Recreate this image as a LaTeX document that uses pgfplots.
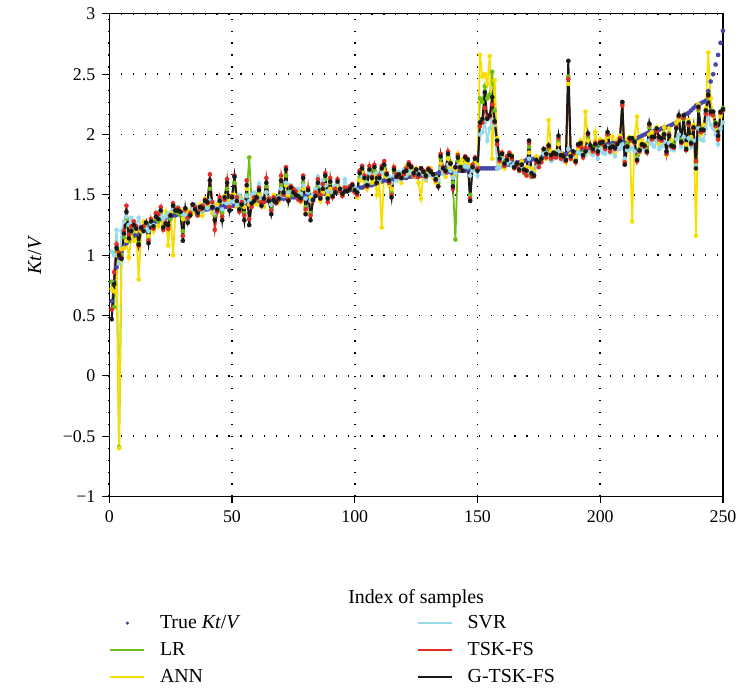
\documentclass[border=0pt]{standalone}
\usepackage{pgfplots}
\pgfplotsset{compat=1.18}
\usepackage{pgfplotstable}
\usepackage{fontspec}
\setmainfont{Liberation Serif}

\definecolor{ctrue}{RGB}{70,70,170}
\definecolor{clr}{RGB}{110,190,20}
\definecolor{cann}{RGB}{248,222,0}
\definecolor{csvr}{RGB}{150,218,235}
\definecolor{ctsk}{RGB}{225,45,35}
\definecolor{cg}{RGB}{25,25,25}

\pgfplotstableread{
i T LR ANN SVR TSK G
1 0.62 0.78 0.72 1.03 0.55 0.47
2 0.78 0.57 0.70 1.00 0.86 0.76
3 0.90 1.02 1.00 1.21 1.09 1.06
4 0.98 -0.59 -0.60 0.93 1.02 1.00
5 1.03 1.00 1.05 1.20 0.98 0.97
6 1.07 1.15 1.06 1.28 1.20 1.18
7 1.10 1.30 1.12 1.32 1.41 1.36
8 1.12 1.12 0.98 1.25 1.17 1.14
9 1.14 1.18 1.15 1.31 1.24 1.20
10 1.16 1.22 1.12 1.27 1.28 1.25
11 1.18 1.20 1.20 1.25 1.24 1.22
12 1.19 1.10 0.80 1.31 1.08 1.09
13 1.21 1.20 1.20 1.22 1.22 1.23
14 1.22 1.24 1.28 1.22 1.24 1.20
15 1.24 1.25 1.22 1.22 1.27 1.27
16 1.25 1.14 1.16 1.20 1.12 1.10
17 1.26 1.27 1.30 1.26 1.30 1.28
18 1.27 1.22 1.20 1.25 1.22 1.24
19 1.28 1.30 1.35 1.34 1.35 1.32
20 1.29 1.28 1.24 1.36 1.34 1.30
21 1.30 1.34 1.32 1.33 1.40 1.37
22 1.30 1.25 1.27 1.30 1.21 1.23
23 1.31 1.27 1.36 1.32 1.27 1.26
24 1.32 1.23 1.08 1.35 1.22 1.25
25 1.32 1.30 1.35 1.33 1.33 1.33
26 1.33 1.38 1.00 1.38 1.43 1.41
27 1.33 1.36 1.37 1.40 1.38 1.37
28 1.34 1.35 1.40 1.40 1.39 1.37
29 1.34 1.33 1.38 1.36 1.36 1.36
30 1.35 1.20 1.30 1.34 1.16 1.12
31 1.35 1.37 1.38 1.33 1.38 1.39
32 1.35 1.30 1.36 1.30 1.31 1.27
33 1.36 1.33 1.37 1.35 1.35 1.33
34 1.36 1.40 1.35 1.38 1.42 1.42
35 1.37 1.38 1.41 1.42 1.40 1.38
36 1.37 1.33 1.34 1.39 1.33 1.35
37 1.37 1.38 1.42 1.36 1.38 1.40
38 1.38 1.37 1.33 1.38 1.41 1.39
39 1.38 1.42 1.47 1.43 1.46 1.45
40 1.38 1.43 1.40 1.39 1.43 1.44
41 1.39 1.55 1.42 1.45 1.67 1.62
42 1.39 1.42 1.35 1.41 1.44 1.40
43 1.39 1.33 1.36 1.35 1.21 1.29
44 1.39 1.37 1.42 1.39 1.36 1.38
45 1.40 1.44 1.46 1.47 1.48 1.45
46 1.40 1.35 1.32 1.38 1.32 1.29
47 1.40 1.45 1.49 1.44 1.46 1.48
48 1.40 1.55 1.44 1.43 1.63 1.60
49 1.41 1.39 1.45 1.42 1.40 1.37
50 1.41 1.46 1.50 1.45 1.49 1.48
51 1.41 1.60 1.50 1.48 1.66 1.65
52 1.42 1.44 1.40 1.42 1.48 1.45
53 1.42 1.40 1.38 1.50 1.36 1.38
54 1.42 1.43 1.47 1.46 1.44 1.42
55 1.43 1.35 1.40 1.44 1.33 1.29
56 1.43 1.50 1.55 1.49 1.62 1.58
57 1.43 1.81 1.42 1.45 1.30 1.25
58 1.44 1.44 1.46 1.50 1.40 1.43
59 1.44 1.47 1.45 1.52 1.48 1.45
60 1.44 1.46 1.42 1.48 1.47 1.48
61 1.45 1.52 1.50 1.59 1.56 1.54
62 1.45 1.42 1.45 1.47 1.44 1.41
63 1.45 1.46 1.40 1.45 1.44 1.47
64 1.45 1.57 1.52 1.52 1.64 1.60
65 1.46 1.45 1.46 1.48 1.47 1.45
66 1.46 1.38 1.42 1.42 1.37 1.34
67 1.46 1.47 1.50 1.47 1.48 1.46
68 1.46 1.44 1.47 1.46 1.43 1.44
69 1.47 1.49 1.44 1.48 1.46 1.47
70 1.47 1.58 1.65 1.55 1.66 1.62
71 1.47 1.50 1.52 1.49 1.50 1.52
72 1.47 1.66 1.58 1.60 1.73 1.71
73 1.48 1.48 1.50 1.52 1.46 1.45
74 1.48 1.54 1.58 1.58 1.57 1.56
75 1.48 1.50 1.55 1.53 1.55 1.52
76 1.48 1.52 1.50 1.50 1.53 1.50
77 1.48 1.48 1.52 1.55 1.46 1.49
78 1.49 1.49 1.44 1.51 1.45 1.47
79 1.49 1.60 1.55 1.58 1.66 1.64
80 1.49 1.40 1.35 1.47 1.38 1.34
81 1.49 1.53 1.56 1.52 1.56 1.54
82 1.50 1.35 1.48 1.45 1.33 1.29
83 1.50 1.46 1.50 1.50 1.45 1.46
84 1.50 1.51 1.53 1.55 1.52 1.49
85 1.50 1.57 1.60 1.65 1.63 1.60
86 1.50 1.49 1.45 1.58 1.50 1.47
87 1.51 1.54 1.52 1.62 1.59 1.55
88 1.51 1.63 1.58 1.58 1.68 1.66
89 1.51 1.48 1.50 1.53 1.44 1.47
90 1.51 1.60 1.55 1.62 1.64 1.61
91 1.52 1.50 1.52 1.52 1.48 1.49
92 1.52 1.53 1.55 1.57 1.55 1.52
93 1.52 1.59 1.57 1.60 1.63 1.61
94 1.53 1.55 1.52 1.55 1.53 1.55
95 1.53 1.52 1.50 1.55 1.49 1.51
96 1.53 1.54 1.56 1.63 1.56 1.53
97 1.54 1.54 1.53 1.55 1.55 1.53
98 1.54 1.55 1.56 1.57 1.57 1.55
99 1.54 1.57 1.55 1.58 1.59 1.58
100 1.55 1.54 1.55 1.56 1.52 1.54
101 1.55 1.52 1.48 1.54 1.50 1.52
102 1.56 1.65 1.62 1.70 1.70 1.68
103 1.56 1.70 1.68 1.65 1.74 1.72
104 1.57 1.63 1.61 1.64 1.66 1.64
105 1.57 1.59 1.55 1.60 1.57 1.58
106 1.58 1.69 1.72 1.68 1.74 1.71
107 1.58 1.64 1.60 1.66 1.65 1.64
108 1.59 1.70 1.67 1.73 1.75 1.73
109 1.60 1.60 1.50 1.68 1.60 1.60
110 1.61 1.64 1.60 1.62 1.66 1.64
111 1.61 1.70 1.23 1.68 1.74 1.72
112 1.62 1.73 1.70 1.75 1.78 1.75
113 1.62 1.66 1.65 1.68 1.68 1.67
114 1.62 1.63 1.58 1.65 1.60 1.62
115 1.63 1.52 1.55 1.60 1.50 1.48
116 1.63 1.70 1.72 1.66 1.73 1.71
117 1.63 1.65 1.62 1.62 1.67 1.65
118 1.64 1.67 1.66 1.69 1.65 1.67
119 1.64 1.64 1.60 1.63 1.64 1.64
120 1.64 1.68 1.66 1.71 1.67 1.69
121 1.64 1.70 1.74 1.66 1.72 1.70
122 1.65 1.73 1.68 1.70 1.77 1.75
123 1.65 1.72 1.70 1.68 1.74 1.73
124 1.65 1.67 1.65 1.66 1.66 1.68
125 1.65 1.70 1.72 1.69 1.71 1.71
126 1.66 1.66 1.60 1.67 1.65 1.67
127 1.66 1.71 1.47 1.70 1.72 1.72
128 1.66 1.70 1.70 1.67 1.70 1.69
129 1.66 1.66 1.62 1.63 1.65 1.66
130 1.67 1.70 1.68 1.66 1.72 1.71
131 1.67 1.68 1.72 1.69 1.70 1.69
132 1.67 1.66 1.64 1.66 1.67 1.67
133 1.67 1.65 1.60 1.64 1.62 1.63
134 1.68 1.60 1.63 1.62 1.57 1.57
135 1.68 1.80 1.76 1.72 1.84 1.82
136 1.68 1.72 1.70 1.68 1.73 1.72
137 1.68 1.71 1.65 1.70 1.69 1.70
138 1.69 1.82 1.80 1.75 1.86 1.84
139 1.69 1.77 1.72 1.70 1.76 1.76
140 1.69 1.60 1.65 1.64 1.55 1.57
141 1.69 1.13 1.70 1.68 1.73 1.73
142 1.70 1.78 1.84 1.74 1.83 1.81
143 1.70 1.73 1.76 1.72 1.72 1.73
144 1.70 1.72 1.80 1.71 1.70 1.70
145 1.70 1.79 1.76 1.74 1.82 1.81
146 1.71 1.78 1.75 1.73 1.80 1.79
147 1.71 1.50 1.74 1.66 1.47 1.45
148 1.71 1.72 1.73 1.70 1.75 1.73
149 1.72 1.79 1.76 1.74 1.81 1.80
150 1.72 1.72 1.75 1.66 1.72 1.70
151 1.72 2.30 2.66 2.00 2.07 2.10
152 1.72 2.27 2.48 2.02 2.10 2.13
153 1.72 2.40 2.50 2.10 2.22 2.35
154 1.72 2.30 2.42 1.95 2.15 2.13
155 1.72 2.33 2.65 2.05 2.15 2.16
156 1.72 2.52 1.80 2.12 2.25 2.31
157 1.72 2.20 2.45 2.08 2.10 2.11
158 1.72 1.96 1.97 1.72 1.92 1.95
159 1.73 1.80 1.75 1.73 1.78 1.80
160 1.74 1.82 1.85 1.80 1.85 1.84
161 1.74 1.77 1.72 1.75 1.74 1.76
162 1.75 1.80 1.77 1.76 1.82 1.79
163 1.75 1.82 1.80 1.78 1.85 1.83
164 1.76 1.80 1.83 1.74 1.80 1.82
165 1.76 1.74 1.75 1.76 1.72 1.73
166 1.77 1.75 1.73 1.74 1.74 1.76
167 1.77 1.70 1.72 1.71 1.70 1.71
168 1.78 1.76 1.78 1.73 1.75 1.75
169 1.78 1.68 1.70 1.70 1.69 1.71
170 1.79 1.68 1.73 1.69 1.66 1.70
171 1.79 1.90 1.85 1.80 1.93 1.95
172 1.79 1.66 1.72 1.69 1.65 1.68
173 1.80 1.65 1.70 1.67 1.66 1.66
174 1.80 1.78 1.82 1.73 1.77 1.79
175 1.80 1.76 1.80 1.75 1.73 1.77
176 1.81 1.79 1.78 1.80 1.77 1.80
177 1.81 1.86 1.84 1.84 1.88 1.88
178 1.81 1.82 1.80 1.85 1.81 1.84
179 1.82 1.88 2.12 1.82 1.90 1.91
180 1.82 1.82 1.86 1.78 1.80 1.83
181 1.82 1.84 1.83 1.80 1.82 1.85
182 1.83 1.83 1.86 1.83 1.81 1.84
183 1.83 1.95 1.92 1.86 1.97 1.99
184 1.83 1.82 1.84 1.80 1.80 1.83
185 1.84 1.80 1.82 1.78 1.83 1.82
186 1.84 1.78 1.77 1.80 1.78 1.79
187 1.84 2.48 2.42 1.88 2.46 2.61
188 1.85 1.83 1.84 1.80 1.80 1.82
189 1.85 1.85 1.79 1.82 1.84 1.86
190 1.85 1.79 1.82 1.77 1.77 1.78
191 1.86 1.90 1.88 1.85 1.91 1.92
192 1.86 1.91 1.95 1.84 1.90 1.93
193 1.87 1.85 1.84 1.82 1.81 1.83
194 1.87 1.87 2.19 1.83 1.89 1.86
195 1.88 1.98 1.95 1.90 2.00 2.01
196 1.88 1.90 1.85 1.86 1.89 1.91
197 1.89 1.88 1.88 1.83 1.86 1.88
198 1.89 1.90 2.02 1.87 1.93 1.92
199 1.90 1.87 1.85 1.80 1.84 1.86
200 1.90 1.92 1.96 1.88 1.94 1.93
201 1.91 1.93 1.90 1.85 1.92 1.94
202 1.91 1.89 1.95 1.84 1.88 1.90
203 1.92 2.00 1.98 1.90 2.00 2.02
204 1.92 1.88 1.86 1.85 1.86 1.89
205 1.93 1.91 1.98 1.86 1.90 1.90
206 1.93 1.90 1.85 1.82 1.88 1.89
207 1.94 1.94 1.96 1.88 1.93 1.92
208 1.94 1.96 1.99 1.88 1.97 1.95
209 1.94 2.26 2.25 1.92 2.24 2.27
210 1.95 1.79 1.78 1.80 1.77 1.75
211 1.95 1.92 1.96 1.87 1.90 1.90
212 1.96 1.95 1.98 1.88 1.96 1.97
213 1.96 1.95 1.28 1.89 1.95 1.97
214 1.97 1.96 1.98 1.86 1.93 1.94
215 1.97 1.82 2.15 1.80 1.78 1.79
216 1.98 1.88 1.85 1.86 1.86 1.87
217 1.99 1.92 1.95 1.90 1.91 1.92
218 2.00 1.92 1.90 1.88 1.90 1.91
219 2.01 1.88 1.92 1.85 1.85 1.86
220 2.02 2.06 2.00 1.95 2.08 2.09
221 2.02 1.97 2.02 1.92 1.96 1.98
222 2.03 1.96 1.97 1.90 1.98 1.98
223 2.03 2.04 2.06 1.95 2.03 2.05
224 2.04 1.97 1.92 1.88 1.96 1.98
225 2.05 1.96 1.98 1.90 1.95 1.97
226 2.06 2.01 2.06 1.94 2.00 2.00
227 2.06 1.86 1.83 1.85 1.84 1.86
228 2.07 2.01 2.05 1.93 2.00 1.99
229 2.08 1.92 1.95 1.88 1.90 1.91
230 2.09 1.92 1.88 1.87 1.89 1.90
231 2.10 2.07 2.10 1.96 2.06 2.05
232 2.12 2.14 2.12 2.00 2.15 2.16
233 2.14 1.96 1.93 1.90 1.93 1.94
234 2.15 2.13 2.15 1.98 2.14 2.16
235 2.17 1.90 1.92 1.88 1.87 1.88
236 2.18 2.08 2.12 1.97 2.08 2.10
237 2.20 1.95 1.98 1.90 1.92 1.93
238 2.22 2.05 2.08 1.95 2.05 2.06
239 2.24 1.75 1.16 1.74 1.78 1.72
240 2.25 2.20 2.25 2.05 2.22 2.23
241 2.26 2.05 2.00 1.96 2.02 2.04
242 2.27 2.05 2.08 1.95 2.03 2.04
243 2.28 2.18 2.22 2.05 2.17 2.20
244 2.36 2.30 2.68 2.15 2.32 2.33
245 2.44 2.20 2.30 2.08 2.17 2.19
246 2.50 2.18 2.15 2.05 2.16 2.19
247 2.58 2.10 2.05 2.00 2.07 2.09
248 2.66 1.98 1.96 1.92 1.96 1.99
249 2.76 2.17 2.15 2.05 2.18 2.19
250 2.86 2.22 2.20 2.10 2.20 2.21
}\data

\begin{document}
\fontsize{10}{12}\selectfont
\begin{tikzpicture}
\begin{axis}[
  scale only axis, width=309pt, height=243pt,
  xmin=0, xmax=250, ymin=-1, ymax=3,
  xtick={0,50,100,150,200,250},
  xticklabels={0,50,100,150,200,250},
  ytick={-1,-0.5,0,0.5,1,1.5,2,2.5,3},
  yticklabels={−1,−0.5,0,0.5,1,1.5,2,2.5,3},
  tick label style={font=\fontsize{9}{11}\selectfont},
  tick align=outside, xtick pos=left, ytick pos=left,
  major tick length=3.5pt,
  tick style={black, line width=0.6pt},
  axis line style={line width=0.6pt},
  grid=major,
  major grid style={black, line width=0.8pt, dash pattern=on 0.6pt off 5.4pt},
  xlabel={Index of samples},
  ylabel={\textit{Kt}/\textit{V}},
  xlabel style={at={(axis description cs:0.5,0)}, anchor=center, yshift=-51.5pt},
  ylabel style={at={(axis description cs:-0.1214,0.5)}, anchor=center},
  legend style={draw=none, fill=none, at={(axis description cs:0,-0.2365)}, anchor=north west,
    inner sep=0pt, row sep=1.5pt, font=\fontsize{10}{12}\selectfont,
    /tikz/every odd column/.append style={column sep=5.5pt},
    /tikz/every even column/.append style={column sep=87pt}},
  legend columns=2, legend cell align=left,
  every axis plot/.append style={mark options={line width=0.1pt}},
]
\addplot[only marks, mark=*, mark size=1.1pt, color=ctrue, forget plot] table[x=i,y=T]{\data};
\addplot[color=clr, line width=0.9pt, mark=*, mark size=1.1pt, forget plot] table[x=i,y=LR]{\data};
\addplot[color=cann, line width=0.9pt, mark=*, mark size=1.1pt, forget plot] table[x=i,y=ANN]{\data};
\addplot[color=csvr, line width=0.9pt, mark=*, mark size=1.1pt, forget plot] table[x=i,y=SVR]{\data};
\addplot[color=ctsk, line width=0.9pt, mark=*, mark size=1.1pt, forget plot] table[x=i,y=TSK]{\data};
\addplot[color=cg, line width=1pt, mark=*, mark size=1.1pt, forget plot] table[x=i,y=G]{\data};

\addlegendimage{only marks, mark=*, mark size=0.8pt, color=ctrue}
\addlegendentry{True \textit{Kt}/\textit{V}}
\addlegendimage{color=csvr, line width=0.8pt, mark=*, mark size=0.3pt}
\addlegendentry{SVR}
\addlegendimage{color=clr, line width=0.8pt, mark=*, mark size=0.3pt}
\addlegendentry{LR}
\addlegendimage{color=ctsk, line width=0.8pt, mark=*, mark size=0.3pt}
\addlegendentry{TSK-FS}
\addlegendimage{color=cann, line width=0.8pt, mark=*, mark size=0.3pt}
\addlegendentry{ANN}
\addlegendimage{color=cg, line width=0.8pt, mark=*, mark size=0.3pt}
\addlegendentry{G-TSK-FS}
\end{axis}
\path (current axis.south west) ++(-55pt,-94.5pt) rectangle ++(371.5pt,344.5pt);
\end{tikzpicture}
\end{document}
